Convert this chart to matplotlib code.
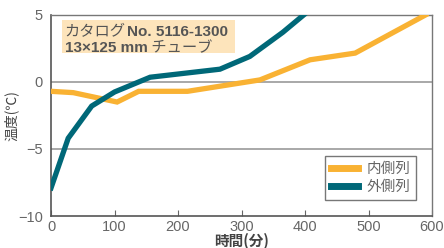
import matplotlib
matplotlib.use('Agg')
import matplotlib.pyplot as plt
from matplotlib.patches import Rectangle
from matplotlib.transforms import offset_copy

plt.rcParams['font.family'] = ['Liberation Sans', 'Noto Sans CJK JP']

# data
inner_t = [0, 35, 104, 138, 215, 329, 408, 479, 590]
inner_temp = [-0.7, -0.8, -1.5, -0.7, -0.7, 0.15, 1.65, 2.15, 5.0]
outer_t = [0, 27, 64, 100, 156, 266, 313, 365, 398]
outer_temp = [-7.9, -4.2, -1.8, -0.75, 0.35, 0.95, 1.9, 3.7, 5.0]
series_names = ['内側列', '外側列']
note_lines = [('カタログ', 'No. 5116-1300'), ('13×125 mm', ' チューブ')]

orange = '#f9b233'
teal = '#006878'
gray = '#666666'
cjk = ['Noto Sans CJK JP', 'Liberation Sans']

fig = plt.figure(figsize=(4.44, 2.48), dpi=100)
ax = fig.add_axes([0.115, 0.129, 0.858, 0.811])

ax.axhline(0, color='#999999', lw=1.2, zorder=1)
ax.axhline(-5, color='#999999', lw=1.2, zorder=1)

ax.plot(inner_t, inner_temp, color=orange, lw=3.8, label=series_names[0],
        solid_joinstyle='miter', zorder=3)
ax.plot(outer_t, outer_temp, color=teal, lw=3.8, label=series_names[1],
        solid_joinstyle='miter', zorder=3)

ax.set_xlim(0, 600)
ax.set_ylim(-10, 5)
ax.set_xticks([0, 100, 200, 300, 400, 500, 600])
ax.set_yticks([5, 0, -5, -10])
ax.tick_params(axis='x', direction='in', length=4, color=gray, labelsize=10.5,
               labelcolor=gray, pad=3)
ax.tick_params(axis='y', length=0, labelsize=10.5, labelcolor=gray, pad=6)

for side in ['left', 'bottom']:
    ax.spines[side].set_color('#555555')
    ax.spines[side].set_linewidth(1.2)
for side in ['top', 'right']:
    ax.spines[side].set_color('#777777')
    ax.spines[side].set_linewidth(1.0)

ax.set_xlabel('時間(分)', fontsize=10.5, color='#444444', labelpad=-1,
              family=cjk, fontweight='bold')
ax.set_ylabel('温度(℃)', fontsize=10, color='#444444', family=cjk)
ax.yaxis.set_label_coords(-0.085, 0.5)

# note box
ax.add_patch(Rectangle((0.029, 0.811), 0.454, 0.164, transform=ax.transAxes,
                       fc='#fde4bb', ec='none', zorder=2))
fig.canvas.draw()
renderer = fig.canvas.get_renderer()
for i, (a, b) in enumerate(note_lines):
    y = 0.895 - i * 0.082
    if i == 0:
        t1 = ax.text(0.036, y, a, transform=ax.transAxes, fontsize=11,
                     color='#555555', family=cjk, va='baseline', zorder=4)
        w = t1.get_window_extent(renderer).width
        ax.text(0.036, y, b, fontsize=11, color='#555555', fontweight='bold',
                va='baseline', zorder=4,
                transform=offset_copy(ax.transAxes, fig, x=w + 1, units='dots'))
    else:
        t1 = ax.text(0.036, y, a, transform=ax.transAxes, fontsize=11,
                     color='#555555', fontweight='bold', va='baseline', zorder=4)
        w = t1.get_window_extent(renderer).width
        ax.text(0.036, y, b, fontsize=11, color='#555555', family=cjk,
                va='baseline', zorder=4,
                transform=offset_copy(ax.transAxes, fig, x=w, units='dots'))

leg = ax.legend(loc='lower right', bbox_to_anchor=(0.958, 0.08),
                borderaxespad=0, prop={'family': cjk, 'size': 10.5},
                frameon=True, fancybox=False, handlelength=1.8,
                labelcolor=gray, borderpad=0.4, labelspacing=0.3,
                handletextpad=0.6)
leg.get_frame().set_edgecolor('#555555')
leg.get_frame().set_linewidth(1.0)
for line in leg.get_lines():
    line.set_linewidth(5)

fig.savefig('out.png', dpi=100)
